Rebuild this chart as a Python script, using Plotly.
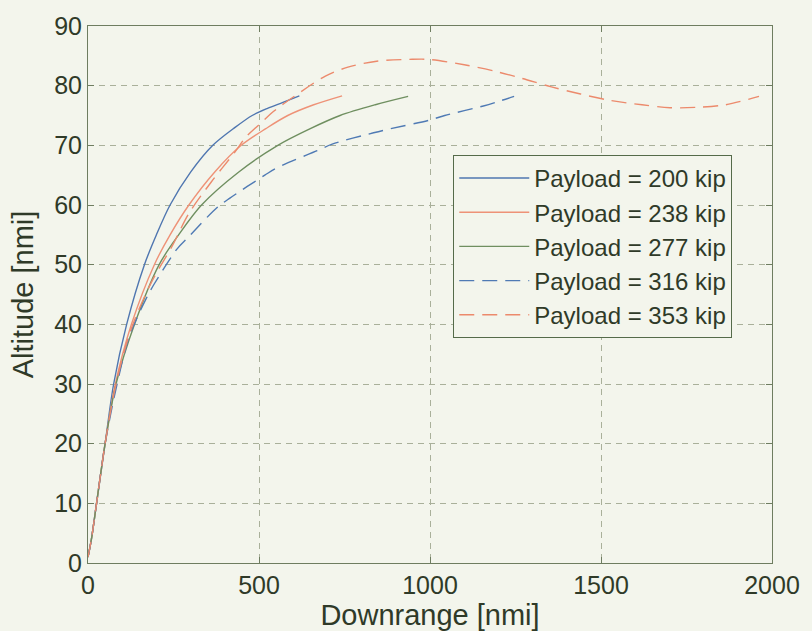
import plotly.graph_objects as go

labels = ["Payload = 200 kip", "Payload = 238 kip", "Payload = 277 kip",
          "Payload = 316 kip", "Payload = 353 kip"]

x200 = [0, 10, 25, 50, 75, 113, 165, 200, 240, 300, 365, 430, 480, 525, 570, 618]
y200 = [1, 4, 10, 20, 30, 40, 50, 55, 60, 65.5, 70, 73, 75, 76.2, 77.2, 78.3]

x238 = [0, 10, 25, 50, 80, 127, 194, 240, 295, 370, 448, 520, 584, 660, 743]
y238 = [1, 4, 10, 20, 30, 40, 50, 55, 60, 65.5, 70, 72.8, 75, 76.8, 78.3]

x277 = [0, 10, 25, 50, 82, 136, 208, 265, 332, 440, 555, 650, 737, 840, 936]
y277 = [1, 4, 10, 20, 30, 40, 50, 55, 60, 65.5, 70, 72.8, 75, 76.8, 78.2]

x316 = [0, 10, 25, 50, 85, 121, 170, 194, 260, 295, 376, 416, 517, 555, 670, 714,
        835, 878, 997, 1043, 1156, 1208, 1246]
y316 = [1, 4, 10, 20, 30, 38, 44.3, 46.8, 52.6, 54.7, 59.5, 61.2, 65, 66.3, 69.1, 70.2,
        72.1, 72.7, 74.2, 75, 76.6, 77.5, 78.2]

x353 = [0, 10, 25, 50, 82, 125, 185, 246, 295, 361, 430, 462, 497, 545, 593, 694,
        760, 844, 939, 997, 1100, 1191, 1270, 1355, 1440, 1529, 1620, 1702, 1790, 1864, 1962]
y353 = [1, 4, 10, 20, 30, 39, 47, 53.1, 58.6, 63.9, 68.9, 71.4, 73.3, 75.8, 77.8, 81.6,
        83.1, 84.1, 84.4, 84.4, 83.5, 82.4, 81.2, 79.8, 78.6, 77.5, 76.8, 76.3, 76.4, 76.8, 78.2]

xticks = [0, 500, 1000, 1500, 2000]
yticks = [0, 10, 20, 30, 40, 50, 60, 70, 80, 90]

series = [(x200, y200), (x238, y238), (x277, y277), (x316, y316), (x353, y353)]
colors = ["#4f76b0", "#ee9277", "#6f8f60", "#4f7ab4", "#ec8a6c"]
dashes = ["solid", "solid", "solid", "15px,8px", "15px,8px"]

BG = "#f3f5ec"
TXT = "#2f3a28"
FONT = "Liberation Sans, Arial, sans-serif"

fig = go.Figure()
for (xs, ys), name, c, d in zip(series, labels, colors, dashes):
    fig.add_trace(go.Scatter(x=xs, y=ys, mode="lines", name=name,
                             line=dict(color=c, width=1.4, dash=d, shape="spline", smoothing=0.9)))

axis_common = dict(
    showline=True, linecolor="#6e7d60", linewidth=1, mirror="ticks",
    ticks="inside", ticklen=6, tickcolor="#6e7d60",
    showgrid=True, gridcolor="#a9b09a", gridwidth=1, griddash="6px,5px",
    zeroline=False, tickfont=dict(size=25, color=TXT, family=FONT),
)

fig.update_xaxes(range=[0, 2000], tickvals=xticks, ticktext=[str(v) for v in xticks],
                 title=dict(text="Downrange [nmi]", font=dict(size=29, color=TXT, family=FONT), standoff=0),
                 **axis_common)
fig.update_yaxes(range=[0, 90], tickvals=yticks, ticktext=[str(v) for v in yticks],
                 title=dict(text="Altitude [nmi]", font=dict(size=29, color=TXT, family=FONT), standoff=12),
                 **axis_common)

fig.update_layout(
    width=812, height=631,
    margin=dict(l=88, r=30, t=18, b=68),
    paper_bgcolor=BG, plot_bgcolor=BG,
    font=dict(family=FONT, color=TXT),
    legend=dict(x=0.534, y=0.76, xanchor="left", yanchor="top",
                bgcolor=BG, bordercolor="#556b4a", borderwidth=1,
                font=dict(size=24, color=TXT, family=FONT),
                itemwidth=70, tracegroupgap=0),
    showlegend=True,
)

fig.write_html("out.html")
